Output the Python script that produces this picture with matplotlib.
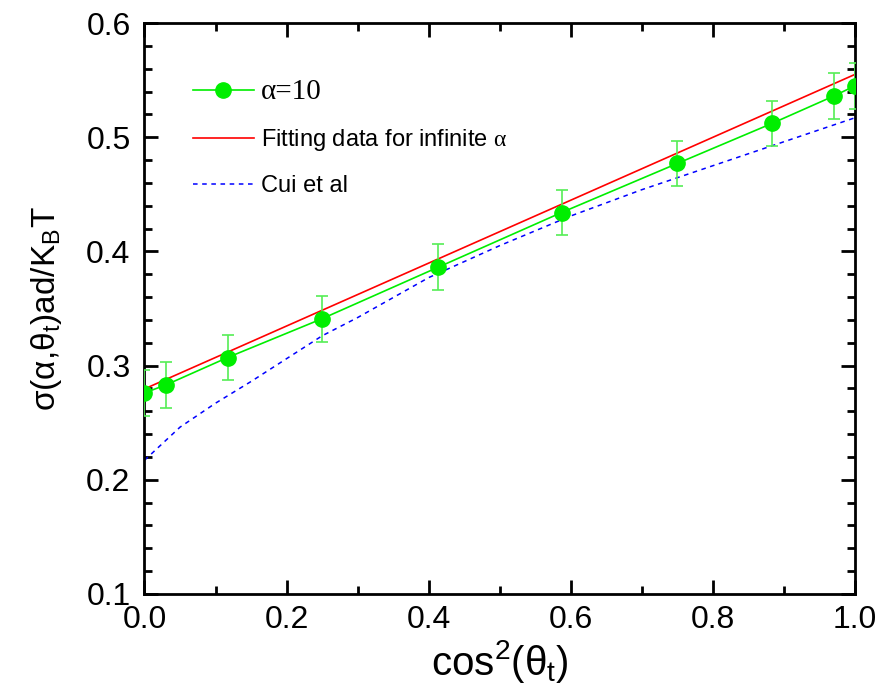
import matplotlib
matplotlib.use("Agg")
import matplotlib.pyplot as plt
from matplotlib.ticker import MultipleLocator

plt.rcParams['font.family'] = ['Liberation Sans', 'DejaVu Sans']
plt.rcParams['mathtext.fontset'] = 'custom'
plt.rcParams['mathtext.rm'] = 'Liberation Serif'
plt.rcParams['mathtext.sf'] = 'Liberation Sans'
plt.rcParams['mathtext.it'] = 'Liberation Sans'

# alpha = 10 simulation points (x = cos^2(theta_t))
x_sim = [0.0, 0.0302, 0.117, 0.25, 0.413, 0.587, 0.75, 0.883, 0.970, 1.0]
y_sim = [0.276, 0.283, 0.307, 0.341, 0.386, 0.434, 0.477, 0.512, 0.536, 0.545]
y_err = [0.02, 0.02, 0.02, 0.02, 0.02, 0.02, 0.02, 0.02, 0.02, 0.02]

# fitting line for infinite alpha
x_fit = [0.0, 1.0]
y_fit = [0.2795, 0.555]

# Cui et al
x_cui = [0.0, 0.05, 0.1, 0.15, 0.2, 0.25, 0.3, 0.4, 0.5, 0.6, 0.7, 0.8, 0.9, 1.0]
y_cui = [0.217, 0.246, 0.267, 0.286, 0.306, 0.326, 0.342, 0.377, 0.405, 0.431,
         0.454, 0.475, 0.496, 0.517]

green = '#00ee00'

fig = plt.figure(figsize=(8.81, 6.97), dpi=100)
ax = fig.add_axes([0.164, 0.148, 0.8065, 0.819])

ax.errorbar(x_sim, y_sim, yerr=y_err, fmt='none', ecolor='#55ee55',
            elinewidth=1.2, capsize=4.5, capthick=1.2, zorder=3)
h1, = ax.plot(x_sim, y_sim, color=green, lw=1.2, marker='o', markersize=11,
              markerfacecolor=green, markeredgecolor=green, zorder=4)
h2, = ax.plot(x_fit, y_fit, color='red', lw=1.2)
h3, = ax.plot(x_cui, y_cui, color='blue', lw=1.1, ls=(0, (3, 3)))

ax.set_xlim(0, 1.0)
ax.set_ylim(0.1, 0.6)
ax.xaxis.set_major_locator(MultipleLocator(0.2))
ax.xaxis.set_minor_locator(MultipleLocator(0.1))
ax.yaxis.set_major_locator(MultipleLocator(0.1))
ax.yaxis.set_minor_locator(MultipleLocator(0.02))
ax.tick_params(which='both', direction='in', top=True, right=True, width=2,
               labelsize=23)
ax.tick_params(which='major', length=10)
ax.tick_params(axis='x', which='major', pad=8)
ax.tick_params(axis='y', which='major', pad=10)
ax.tick_params(which='minor', length=6)
for s in ax.spines.values():
    s.set_linewidth(2)

ax.set_xlabel(r'cos$^\mathsf{2}$($\mathsf{\theta}_\mathsf{t}$)', fontsize=29, labelpad=2)
ax.set_ylabel(r'σ(α,θ$_\mathsf{t}$)ad/K$_\mathsf{B}$T', fontsize=24, labelpad=16)

leg = ax.legend([h1, h2, h3],
                ['α=10', r'Fitting data for infinite $\mathrm{\alpha}$', 'Cui et al'],
                loc='upper left', bbox_to_anchor=(0.038, 0.94), frameon=False,
                fontsize=17, handlelength=2.6, handletextpad=0.3, labelspacing=0.95)
leg.get_texts()[0].set_fontfamily('Liberation Serif')
leg.get_texts()[0].set_fontsize(21)

fig.savefig('out.png', dpi=100)
